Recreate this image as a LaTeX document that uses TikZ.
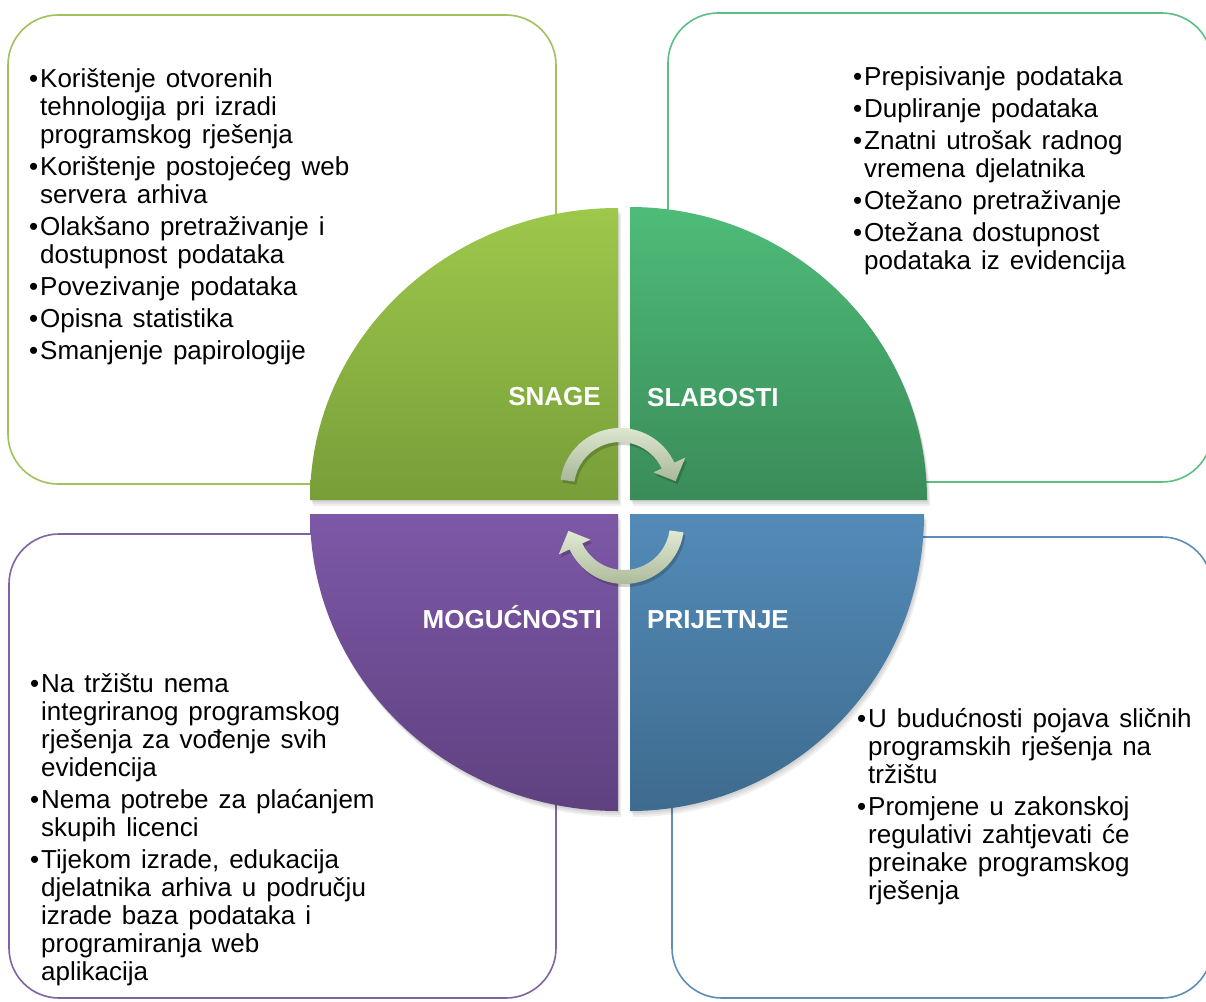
\documentclass[tikz,border=0pt]{standalone}
\usepackage{fontspec}
\setmainfont{Liberation Sans}
\usetikzlibrary{calc}
\definecolor{tlT}{HTML}{9DC84B}
\definecolor{tlB}{HTML}{779E39}
\definecolor{trT}{HTML}{4EBC79}
\definecolor{trB}{HTML}{3A8C58}
\definecolor{blT}{HTML}{7D58A7}
\definecolor{blB}{HTML}{5F4180}
\definecolor{brT}{HTML}{538BB8}
\definecolor{brB}{HTML}{3E6B8E}
\definecolor{boxTL}{HTML}{9FC25C}
\definecolor{boxTR}{HTML}{5DBE84}
\definecolor{boxBL}{HTML}{8064A2}
\definecolor{boxBR}{HTML}{5E8EB5}
\definecolor{arrowL}{HTML}{E1E9D3}
\definecolor{arrowD}{HTML}{A9B898}
\newlength\bw \setlength\bw{11pt}
\newcommand\bsetup{\fontsize{26}{28}\selectfont\spaceskip=10pt\relax\xspaceskip=10pt\relax\setlength\parskip{4pt}\setlength\parindent{0pt}}
\newcommand\bitem[1]{\par\hangindent=\bw\hangafter=1\noindent\makebox[\bw][l]{•}#1}
\begin{document}
\begin{tikzpicture}[x=1pt,y=1pt,
  box/.style={line width=1.6pt, rounded corners=50pt},
  qshadow/.style={fill=black, opacity=0.06},
  lbl/.style={text=white, font=\fontsize{26}{28}\selectfont\bfseries, inner sep=0pt},
  txt/.style={anchor=north west, inner sep=0pt, text width=470pt, text=black},
  arrowfill/.style={top color=arrowL, bottom color=arrowD, draw=none},
  ashadow/.style={fill=black, opacity=0.18},
]
\useasboundingbox (0,0) rectangle (1206,-1001);
\clip (0,0) rectangle (1206,-1001);
\fill[white] (0,0) rectangle (1206,-1001);

% outline boxes
\draw[box, draw=boxTL] (8,-15) rectangle (556,-484);
\draw[box, draw=boxTR] (668,-13) rectangle (1212,-482);
\draw[box, draw=boxBL] (9,-534) rectangle (556,-998);
\draw[box, draw=boxBR] (672,-537) rectangle (1212,-998);

% quadrant shadows
\foreach \dx/\dy in {1/-2,2/-4,3/-6}{
  \begin{scope}[shift={(\dx,\dy)}]
    \fill[qshadow] (618,-500) -- (310,-500) arc[start angle=180, end angle=90, x radius=308pt, y radius=292pt] -- cycle;
    \fill[qshadow] (630,-500) -- (630,-207) arc[start angle=90, end angle=0, x radius=297pt, y radius=293pt] -- cycle;
    \fill[qshadow] (618,-514) -- (618,-811) arc[start angle=270, end angle=180, x radius=308pt, y radius=297pt] -- cycle;
    \fill[qshadow] (630,-514) -- (924,-514) arc[start angle=0, end angle=-90, x radius=294pt, y radius=297pt] -- cycle;
  \end{scope}
}

% quadrants
\path[top color=tlT, bottom color=tlB] (618,-500) -- (310,-500) arc[start angle=180, end angle=90, x radius=308pt, y radius=292pt] -- cycle;
\path[top color=trT, bottom color=trB] (630,-500) -- (630,-207) arc[start angle=90, end angle=0, x radius=297pt, y radius=293pt] -- cycle;
\path[top color=blT, bottom color=blB] (618,-514) -- (618,-811) arc[start angle=270, end angle=180, x radius=308pt, y radius=297pt] -- cycle;
\path[top color=brT, bottom color=brB] (630,-514) -- (924,-514) arc[start angle=0, end angle=-90, x radius=294pt, y radius=297pt] -- cycle;

% labels
\node[lbl, anchor=base east] (snage) at (601,-405) {SNAGE};
\node[lbl, anchor=base west] (slabosti) at (647,-406) {SLABOSTI};
\node[lbl, anchor=base east] (moguc) at (602,-628) {MOGUĆNOSTI};
\node[lbl, anchor=base west] (prijetnje) at (647,-628) {PRIJETNJE};

% cycle arrows
\begin{scope}[shift={(620,-488)}]
  \fill[ashadow, shift={(2,-3)}] (172:60pt) arc[start angle=172, end angle=25, radius=60pt] -- (25:72pt) -- (7:56pt) -- (25:37pt) -- (25:46pt) arc[start angle=25, end angle=172, radius=46pt] -- cycle;
  \path[arrowfill] (172:60pt) arc[start angle=172, end angle=25, radius=60pt] -- (25:72pt) -- (7:56pt) -- (25:37pt) -- (25:46pt) arc[start angle=25, end angle=172, radius=46pt] -- cycle;
\end{scope}
\begin{scope}[shift={(624,-524)}]
  \fill[ashadow, shift={(2,-3)}] (352:60pt) arc[start angle=352, end angle=205, radius=60pt] -- (205:72pt) -- (187:56pt) -- (205:37pt) -- (205:46pt) arc[start angle=205, end angle=352, radius=46pt] -- cycle;
  \path[arrowfill] (352:60pt) arc[start angle=352, end angle=205, radius=60pt] -- (205:72pt) -- (187:56pt) -- (205:37pt) -- (205:46pt) arc[start angle=205, end angle=352, radius=46pt] -- cycle;
\end{scope}

% texts
\node[txt] (tltext) at (29,-55.4) {\bsetup
\bitem{\strut Korištenje otvorenih\newline tehnologija pri izradi\newline programskog rješenja}
\bitem{Korištenje postojećeg web\newline servera arhiva}
\bitem{Olakšano pretraživanje i\newline dostupnost podataka}
\bitem{Povezivanje podataka}
\bitem{Opisna statistika}
\bitem{Smanjenje papirologije}\par};

\node[txt] (trtext) at (853,-53.4) {\bsetup
\bitem{\strut Prepisivanje podataka}
\bitem{Dupliranje podataka}
\bitem{Znatni utrošak radnog\newline vremena djelatnika}
\bitem{Otežano pretraživanje}
\bitem{Otežana dostupnost\newline podataka iz evidencija}\par};

\node[txt] (bltext) at (30,-660.4) {\bsetup
\bitem{\strut Na tržištu nema\newline integriranog programskog\newline rješenja za vođenje svih\newline evidencija}
\bitem{Nema potrebe za plaćanjem\newline skupih licenci}
\bitem{Tijekom izrade, edukacija\newline djelatnika arhiva u području\newline izrade baza podataka i\newline programiranja web\newline aplikacija}\par};

\node[txt] (brtext) at (857,-695.4) {\bsetup
\bitem{\strut U budućnosti pojava sličnih\newline programskih rješenja na\newline tržištu}
\bitem{Promjene u zakonskoj\newline regulativi zahtjevati će\newline preinake programskog\newline rješenja}\par};
\end{tikzpicture}
\end{document}
